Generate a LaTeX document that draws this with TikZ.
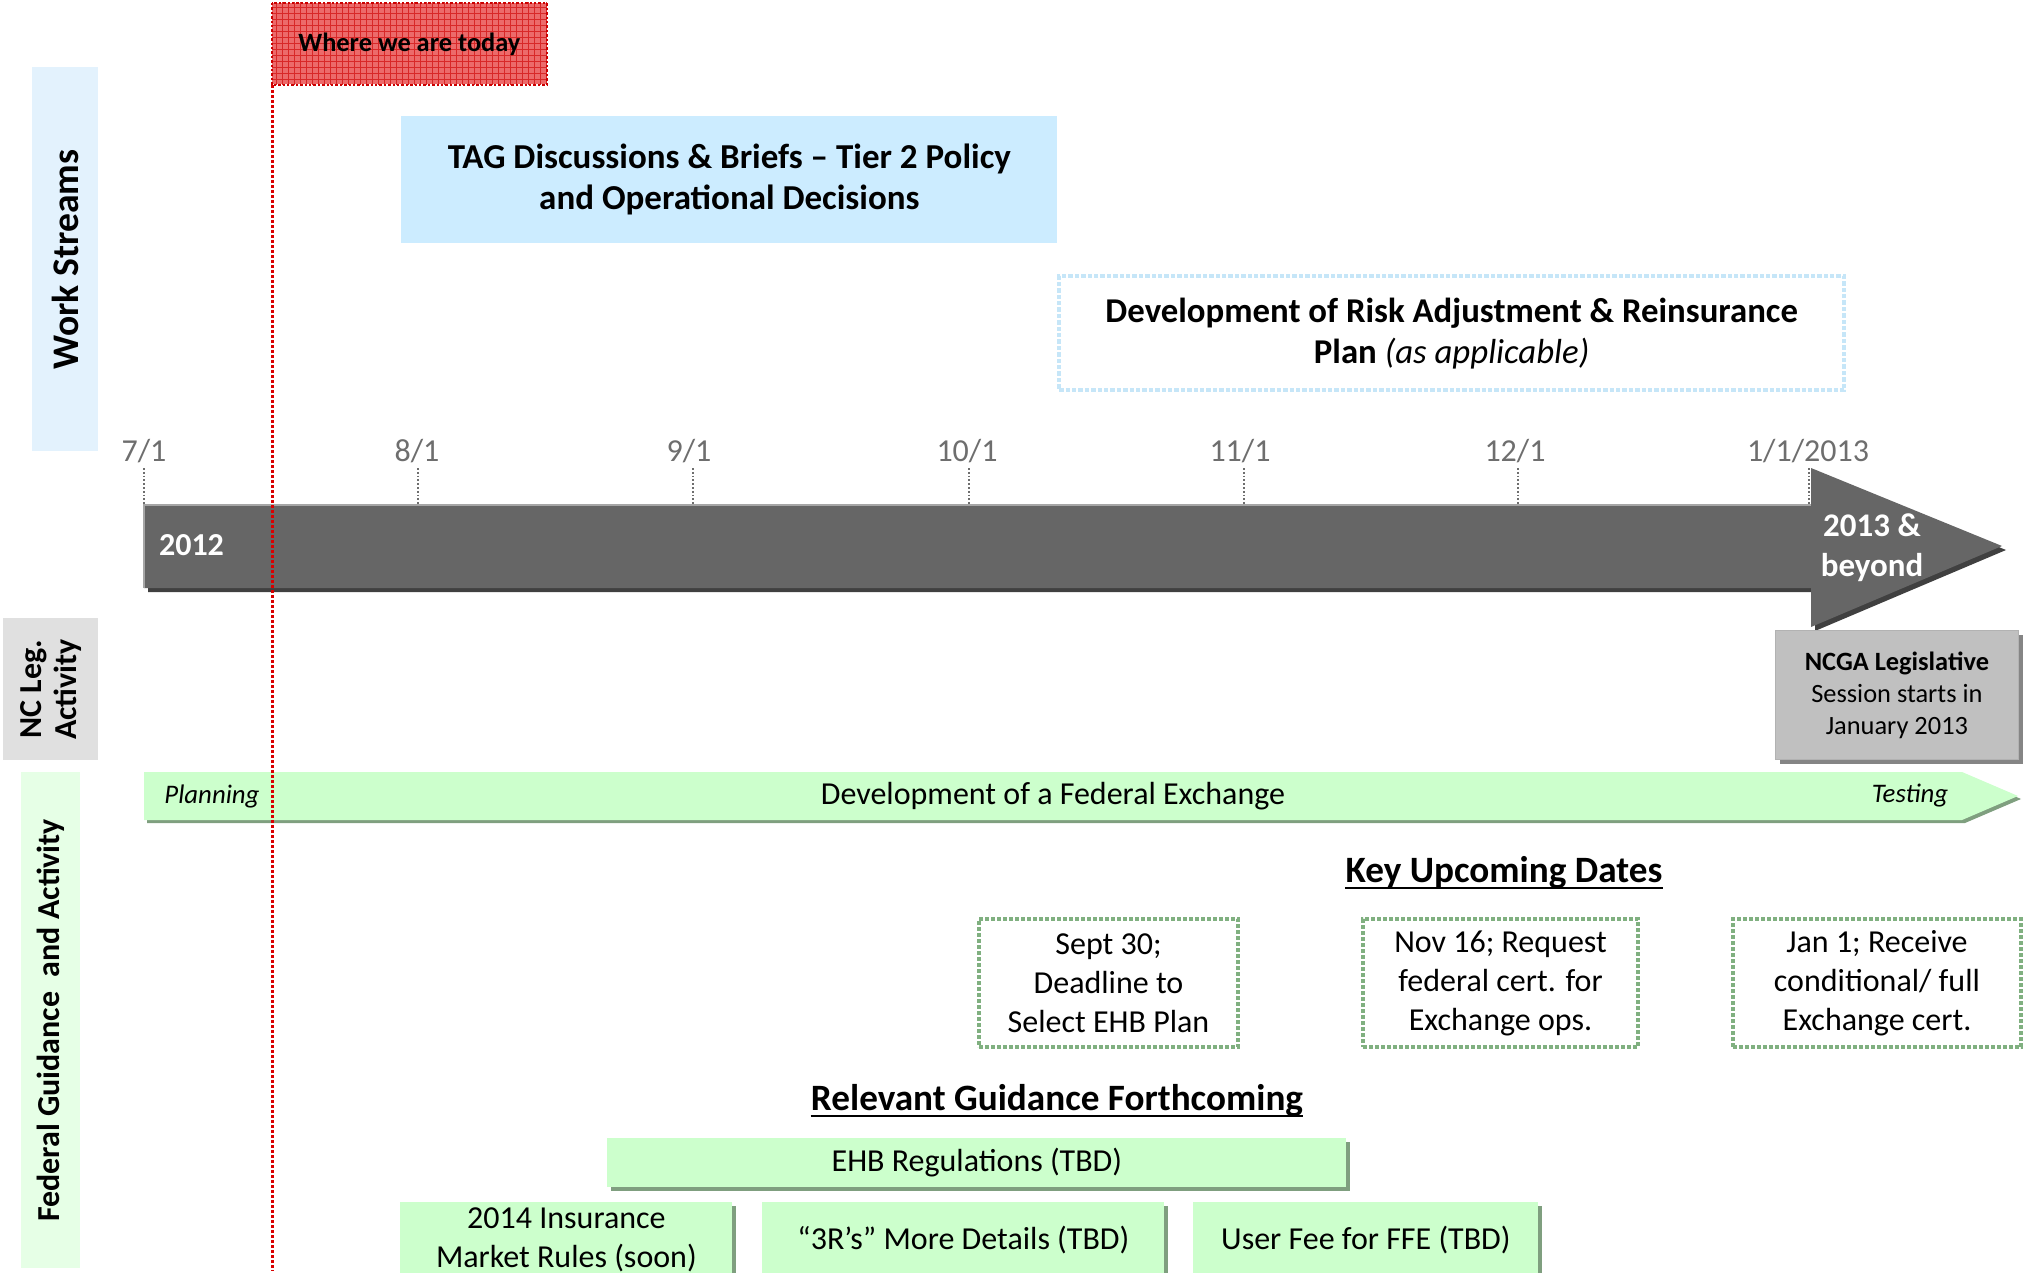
\documentclass[tikz,border=0pt]{standalone}
\usepackage{fontspec}
\setmainfont{Carlito}
\usetikzlibrary{patterns}
\definecolor{wsband}{HTML}{E3F2FD}
\definecolor{tagblue}{HTML}{CCECFF}
\definecolor{riskblue}{HTML}{C6E6F8}
\definecolor{arrowgray}{HTML}{666666}
\definecolor{arrowshadow}{HTML}{404040}
\definecolor{ncband}{HTML}{E0E0E0}
\definecolor{ncgagray}{HTML}{C0C0C0}
\definecolor{fedband}{HTML}{E6FFE6}
\definecolor{lightgreen}{HTML}{CCFFCC}
\definecolor{greenshadow}{HTML}{7F9F7F}
\definecolor{dotgreen}{HTML}{80B080}
\definecolor{todayred}{HTML}{EC6A6A}
\definecolor{gridred}{HTML}{D82828}
\definecolor{datetext}{HTML}{6E6E6E}
\tikzset{
  boxnw/.style={anchor=north west, inner sep=0pt, align=center},
  bandlabel/.style={rotate=90, font=\bfseries, align=center, inner sep=0pt},
  datelabel/.style={anchor=base, text=datetext, font=\fontsize{16}{18}\selectfont, inner sep=0pt},
  tickline/.style={draw=datetext, densely dotted, line width=0.9pt},
  guidebox/.style={boxnw, fill=lightgreen, font=\fontsize{16}{19.5}\selectfont},
  guideshadow/.style={fill=greenshadow},
  datebox/.style={boxnw, draw=dotgreen, densely dotted, line width=2pt, font=\fontsize{16}{19.5}\selectfont, minimum height=64pt},
  heading/.style={anchor=base, inner sep=0pt, font=\bfseries\fontsize{18.6}{21}\selectfont},
  headrule/.style={line width=1.1pt}
}
\begin{document}
\begin{tikzpicture}[x=0.5pt,y=-0.5pt]
\useasboundingbox (0,0) rectangle (2028,1273);
\clip (0,0) rectangle (2028,1273);

% side bands
\node[boxnw, fill=wsband, minimum width=33pt, minimum height=192pt] (wsband) at (32,67) {};
\node[bandlabel, font=\bfseries\fontsize{18.8}{22}\selectfont] (wslabel) at (wsband.center) {Work Streams};
\node[boxnw, fill=ncband, minimum width=47.5pt, minimum height=71pt] (ncband) at (3,618) {};
\node[bandlabel, font=\bfseries\fontsize{16}{17.5}\selectfont] (nclabel) at (ncband.center) {NC Leg.\\Activity};
\node[boxnw, fill=fedband, minimum width=29.5pt, minimum height=248pt] (fedband) at (21,772) {};
\node[bandlabel, font=\bfseries\fontsize{16}{18}\selectfont] (fedlabel) at (fedband.center) {Federal Guidance\ \ and Activity};

% where we are today
\node[boxnw, fill=todayred, minimum width=137pt, minimum height=40.5pt] (today) at (272,3) {};
\path[pattern=grid, pattern color=gridred] (today.north west) rectangle (today.south east);
\draw[red!80!black, densely dotted, line width=1.2pt] (today.north west) rectangle (today.south east);
\node[font=\bfseries\fontsize{13.2}{15}\selectfont] (todaytext) at (today.center) {Where we are today};

% work streams
\node[boxnw, fill=tagblue, minimum width=328pt, minimum height=63.5pt, font=\bfseries\fontsize{17.5}{20.5}\selectfont] (tag) at (401,116) {TAG Discussions \& Briefs -- Tier 2 Policy\\and Operational Decisions};
\node[boxnw, draw=riskblue, densely dotted, line width=2.2pt, minimum width=392.5pt, minimum height=57pt, font=\bfseries\fontsize{17.4}{20.5}\selectfont] (risk) at (1057,274) {Development of Risk Adjustment \& Reinsurance\\Plan \textmd{\itshape (as applicable)}};

% timeline arrow
\fill[arrowshadow] (148,509) -- (1815,509) -- (1815,472) -- (2006,550) -- (1815,631) -- (1815,592) -- (148,592) -- cycle;
\fill[arrowgray] (144,505) -- (1811,505) -- (1811,468) -- (2002,546) -- (1811,627) -- (1811,588) -- (144,588) -- cycle;
\draw[gray!70, line width=1.2pt] (144,588) -- (144,505) -- (1811,505);
\node[anchor=west, text=white, font=\bfseries\fontsize{16}{18}\selectfont] (y2012) at (152,545) {2012};
\node[text=white, align=center, font=\bfseries\fontsize{16.5}{20}\selectfont] (y2013) at (1872,548) {2013 \&\\beyond};

% date labels and ticks
\node[datelabel] (d1) at (144,461) {7/1};
\node[datelabel] (d2) at (417,461) {8/1};
\node[datelabel] (d3) at (689,461) {9/1};
\node[datelabel] (d4) at (967,461) {10/1};
\node[datelabel] (d5) at (1240,461) {11/1};
\node[datelabel] (d6) at (1515,461) {12/1};
\node[datelabel] (d7) at (1808,461) {1/1/2013};
\draw[tickline] (144,468) -- (144,505);
\draw[tickline] (418,468) -- (418,505);
\draw[tickline] (693,468) -- (693,505);
\draw[tickline] (969,468) -- (969,505);
\draw[tickline] (1244,468) -- (1244,505);
\draw[tickline] (1518,468) -- (1518,505);
\draw[tickline] (1809,468) -- (1809,505);

% NCGA
\fill[arrowgray!80] (1780,635) rectangle (2023,764);
\node[boxnw, fill=ncgagray, draw=gray!60, minimum width=121.5pt, minimum height=64.5pt, font=\fontsize{13.2}{16}\selectfont] (ncga) at (1775,630) {\textbf{NCGA Legislative}\\Session starts in\\January 2013};

% federal exchange arrow
\fill[greenshadow] (147,775) -- (1965,775) -- (2021,799) -- (1965,823) -- (147,823) -- cycle;
\fill[lightgreen] (144,772) -- (1962,772) -- (2018,796) -- (1962,820) -- (144,820) -- cycle;
\node[font=\itshape\fontsize{13.4}{15}\selectfont] (planning) at (212,796) {Planning};
\node[font=\fontsize{16}{18}\selectfont] (fedex) at (1053,796) {Development of a Federal Exchange};
\node[font=\itshape\fontsize{13.4}{15}\selectfont] (testing) at (1910,796) {Testing};

% key upcoming dates
\node[heading] (keyhead) at (1504,882) {Key Upcoming Dates};
\draw[headrule] ([yshift=-3pt]keyhead.base west) -- ([yshift=-3pt]keyhead.base east);
\node[datebox, minimum width=129.5pt] (kd1) at (977,917) {Sept 30;\\Deadline to\\Select EHB Plan};
\node[datebox, minimum width=137.5pt] (kd2) at (1361,917) {Nov 16; Request\\federal cert. for\\Exchange ops.};
\node[datebox, minimum width=144pt] (kd3) at (1731,917) {Jan 1; Receive\\conditional/ full\\Exchange cert.};

% relevant guidance
\node[heading] (guidehead) at (1057,1110) {Relevant Guidance Forthcoming};
\draw[headrule] ([yshift=-3pt]guidehead.base west) -- ([yshift=-3pt]guidehead.base east);
\fill[guideshadow] (611,1142) rectangle (1350,1191);
\node[guidebox, minimum width=369.5pt, minimum height=24.5pt] (ehb) at (607,1138) {EHB Regulations (TBD)};
\fill[guideshadow] (404,1206) rectangle (736,1290);
\node[guidebox, minimum width=166pt, minimum height=37.5pt] (rules) at (400,1202) {2014 Insurance\\Market Rules (soon)};
\fill[guideshadow] (766,1206) rectangle (1168,1290);
\node[guidebox, minimum width=201pt, minimum height=37.5pt] (threer) at (762,1202) {``3R's'' More Details (TBD)};
\fill[guideshadow] (1197,1206) rectangle (1542,1290);
\node[guidebox, minimum width=172.5pt, minimum height=37.5pt] (userfee) at (1193,1202) {User Fee for FFE (TBD)};

% today line
\coordinate (todayend) at (272,1270);
\draw[red!85!black, densely dotted, line width=1.5pt] (today.south west) -- (todayend);
\end{tikzpicture}
\end{document}
